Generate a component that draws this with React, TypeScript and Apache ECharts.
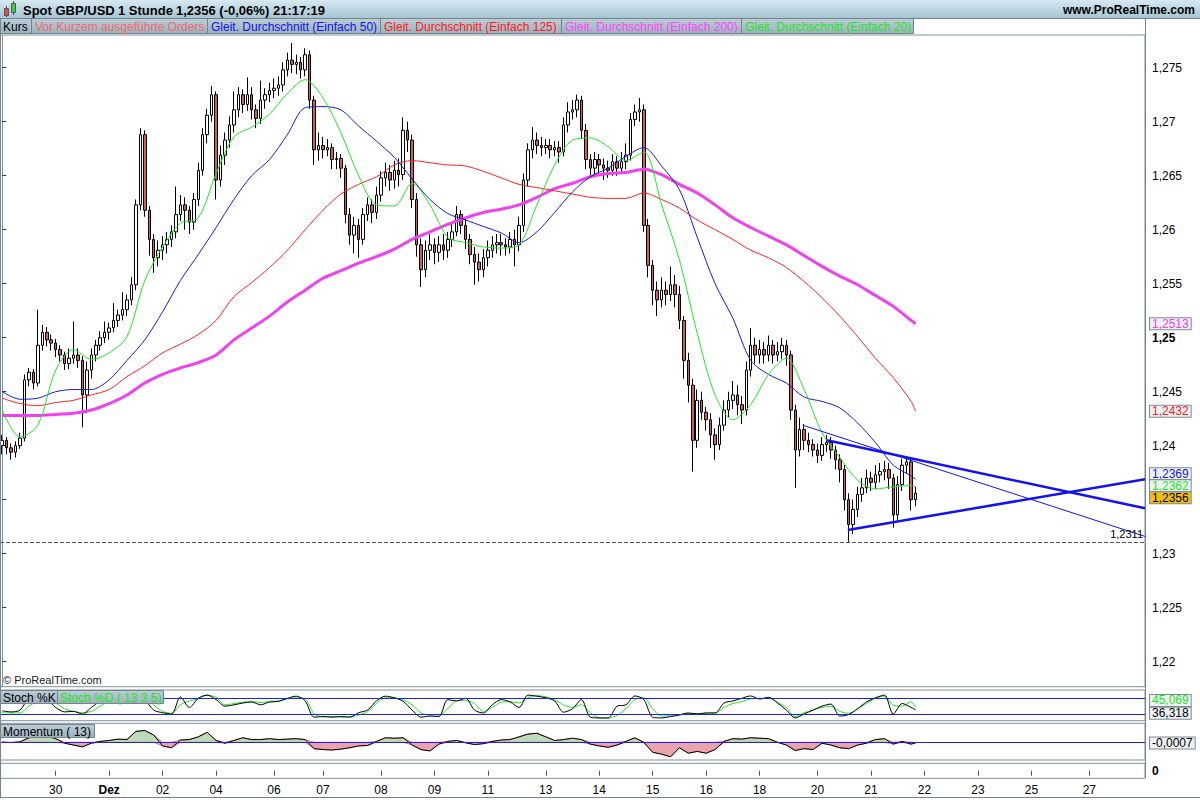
import React, { useEffect, useRef } from "react";
import * as echarts from "echarts";

const FONT = '"Liberation Sans", Arial, Helvetica, sans-serif';
const CAT_COUNT = 257;
const FIRST_OPEN = 1.24;

const closes = [
  1.2405, 1.2398, 1.2394, 1.24, 1.2407, 1.2461, 1.2468, 1.2458, 1.2493, 1.2505,
  1.2498, 1.2495, 1.2489, 1.2484, 1.2476, 1.2481, 1.2484, 1.2479, 1.2447, 1.247,
  1.2484, 1.2493, 1.25, 1.2505, 1.2509, 1.2516, 1.2521, 1.2526, 1.2535, 1.2549,
  1.2623, 1.2688, 1.2618, 1.2591, 1.2574, 1.2581, 1.2586, 1.2591, 1.2598, 1.2614,
  1.2623, 1.2618, 1.2607, 1.2628, 1.2655, 1.2688, 1.2706, 1.2725, 1.2646, 1.2669,
  1.2683, 1.2697, 1.2711, 1.2725, 1.2716, 1.2725, 1.2711, 1.2703, 1.272, 1.2725,
  1.2729, 1.2731, 1.2734, 1.2748, 1.2757, 1.2753, 1.2755, 1.2748, 1.2762, 1.272,
  1.2674, 1.2678, 1.2674, 1.2676, 1.2665, 1.2666, 1.2657, 1.2614, 1.2595, 1.2604,
  1.2591, 1.2614, 1.2623, 1.2616, 1.2632, 1.2648, 1.2653, 1.2646, 1.2655, 1.2651,
  1.2692, 1.2683, 1.2628, 1.2586, 1.2563, 1.2581, 1.2586, 1.2579, 1.2586, 1.2581,
  1.2591, 1.2598, 1.2614, 1.2604, 1.2591, 1.2577, 1.257, 1.2563, 1.2574, 1.2581,
  1.2586, 1.2588, 1.2586, 1.2584, 1.2591, 1.2586, 1.2604, 1.2646, 1.2674, 1.2683,
  1.2678, 1.2676, 1.2678, 1.2674, 1.2676, 1.2672, 1.2697, 1.2709, 1.2711, 1.272,
  1.2692, 1.2665, 1.2657, 1.2665, 1.266, 1.2657, 1.2655, 1.2663, 1.2657, 1.2663,
  1.2669, 1.2702, 1.2709, 1.2711, 1.2604, 1.2567, 1.2544, 1.2535, 1.2544, 1.254,
  1.2549, 1.254, 1.2516, 1.2479, 1.2456, 1.2405, 1.2442, 1.2431, 1.2424, 1.241,
  1.2401, 1.2419, 1.2433, 1.2442, 1.2447, 1.2438, 1.2433, 1.247, 1.2493, 1.2484,
  1.2489, 1.2484, 1.2493, 1.2484, 1.2487, 1.2493, 1.2484, 1.2433, 1.2396, 1.2415,
  1.2405, 1.2401, 1.2396, 1.2391, 1.2401, 1.2403, 1.2396, 1.2387, 1.2378, 1.235,
  1.2327, 1.2341, 1.2355, 1.2361, 1.237, 1.2366, 1.2373, 1.2376, 1.2378, 1.237,
  1.2336, 1.2364, 1.2382, 1.2385, 1.235, 1.2356,
];

const highs = [
  1.241, 1.2408, 1.2402, 1.2404, 1.2412, 1.2466, 1.2472, 1.2471, 1.2526, 1.2512,
  1.251, 1.2503, 1.2499, 1.2493, 1.2487, 1.249, 1.2515, 1.249, 1.2483, 1.2478,
  1.249, 1.2498, 1.2506, 1.2515, 1.2514, 1.2532, 1.2526, 1.2542, 1.254, 1.2556,
  1.2628, 1.2694, 1.2692, 1.2622, 1.2596, 1.259, 1.2594, 1.2598, 1.2604, 1.264,
  1.2632, 1.263, 1.2622, 1.2634, 1.2662, 1.2694, 1.2712, 1.2733, 1.2728, 1.2678,
  1.269, 1.2705, 1.2728, 1.2732, 1.273, 1.2741, 1.2732, 1.2716, 1.2738, 1.2731,
  1.2736, 1.274, 1.2742, 1.2755, 1.2764, 1.2773, 1.2762, 1.276, 1.2768, 1.2766,
  1.2724, 1.269, 1.2686, 1.2684, 1.268, 1.2672, 1.267, 1.266, 1.262, 1.2612,
  1.261, 1.262, 1.263, 1.2628, 1.264, 1.2654, 1.2662, 1.266, 1.2664, 1.2666,
  1.2704, 1.27, 1.2688, 1.2634, 1.2592, 1.259, 1.2596, 1.2592, 1.2594, 1.2596,
  1.2598, 1.2606, 1.2622, 1.2618, 1.261, 1.2596, 1.2584, 1.2578, 1.2582, 1.259,
  1.2594, 1.2596, 1.2596, 1.2592, 1.2598, 1.26, 1.2612, 1.2652, 1.268, 1.2695,
  1.269, 1.2686, 1.2684, 1.2684, 1.2682, 1.2682, 1.2704, 1.2718, 1.272, 1.2725,
  1.2724, 1.2698, 1.267, 1.2672, 1.267, 1.2666, 1.2664, 1.267, 1.2668, 1.2672,
  1.268, 1.2708, 1.2716, 1.2722, 1.2716, 1.261, 1.2572, 1.2552, 1.2556, 1.2552,
  1.2566, 1.2558, 1.2548, 1.252, 1.2486, 1.2462, 1.2452, 1.245, 1.2436, 1.243,
  1.2416, 1.2426, 1.2442, 1.245, 1.246, 1.2456, 1.2446, 1.2478, 1.2509, 1.25,
  1.2498, 1.2496, 1.2502, 1.2498, 1.2496, 1.25, 1.2498, 1.2488, 1.2438, 1.2426,
  1.242, 1.2412, 1.2406, 1.2402, 1.2408, 1.241, 1.2408, 1.24, 1.2392, 1.2382,
  1.2356, 1.235, 1.2362, 1.237, 1.2378, 1.2376, 1.2382, 1.2384, 1.2386, 1.2384,
  1.2374, 1.2372, 1.2388, 1.239, 1.2388, 1.2362,
];

const lows = [
  1.2392, 1.2392, 1.2387, 1.2389, 1.2397, 1.2404, 1.2455, 1.2452, 1.2455, 1.2488,
  1.2492, 1.2488, 1.2482, 1.2478, 1.247, 1.2471, 1.2476, 1.2472, 1.2417, 1.243,
  1.2462, 1.2478, 1.2488, 1.2495, 1.2498, 1.2505, 1.251, 1.2516, 1.252, 1.253,
  1.2544, 1.2618, 1.2612, 1.2576, 1.256, 1.2566, 1.2572, 1.2578, 1.2584, 1.2592,
  1.2608, 1.26, 1.2596, 1.26, 1.2622, 1.265, 1.268, 1.27, 1.2628, 1.264,
  1.266, 1.2676, 1.269, 1.2704, 1.2708, 1.271, 1.2702, 1.2694, 1.2698, 1.2712,
  1.2718, 1.2722, 1.2724, 1.2728, 1.2742, 1.2745, 1.2744, 1.274, 1.2742, 1.2712,
  1.266, 1.2664, 1.2666, 1.2668, 1.2656, 1.2656, 1.2648, 1.2606, 1.2586, 1.2578,
  1.2574, 1.2586, 1.2608, 1.2606, 1.261, 1.2626, 1.264, 1.2636, 1.2638, 1.264,
  1.2646, 1.2672, 1.262, 1.2575, 1.2547, 1.2556, 1.2572, 1.2568, 1.257, 1.2572,
  1.2574, 1.2584, 1.2594, 1.2596, 1.2582, 1.2568, 1.2549, 1.2552, 1.2556, 1.2566,
  1.2574, 1.2578, 1.2576, 1.2576, 1.2578, 1.2566, 1.258, 1.2598, 1.264, 1.2666,
  1.267, 1.2668, 1.267, 1.2666, 1.2668, 1.2662, 1.2668, 1.269, 1.2702, 1.2704,
  1.2684, 1.2656, 1.2648, 1.265, 1.2652, 1.2646, 1.2648, 1.265, 1.265, 1.2652,
  1.2656, 1.2664, 1.2696, 1.27, 1.2598, 1.2556, 1.253, 1.252, 1.2528, 1.253,
  1.2534, 1.2528, 1.2508, 1.2462, 1.244, 1.2376, 1.2398, 1.2424, 1.2414, 1.2398,
  1.2387, 1.2396, 1.2414, 1.2426, 1.2434, 1.2428, 1.242, 1.2428, 1.2464, 1.2476,
  1.2476, 1.2476, 1.2478, 1.2476, 1.2478, 1.248, 1.2474, 1.2424, 1.2361, 1.239,
  1.2396, 1.2394, 1.239, 1.2384, 1.2386, 1.2394, 1.2388, 1.2378, 1.2366, 1.234,
  1.2311, 1.2318, 1.2334, 1.2348, 1.2356, 1.2358, 1.236, 1.2366, 1.2368, 1.236,
  1.2324, 1.233, 1.2358, 1.2374, 1.234, 1.2344,
];

const ma200 = [
  1.2428, 1.2428, 1.2428, 1.2429, 1.243, 1.2433, 1.2439, 1.2447, 1.2458, 1.2466,
  1.2472, 1.2477, 1.2484, 1.2498, 1.2509, 1.252, 1.2533, 1.2544, 1.2555, 1.2562,
  1.2569, 1.2575, 1.2582, 1.2591, 1.2598, 1.2605, 1.2611, 1.2616, 1.2619, 1.2623,
  1.263, 1.2638, 1.2643, 1.2649, 1.2652, 1.2653, 1.2656, 1.2651, 1.2642, 1.2634,
  1.2623, 1.2611, 1.2602, 1.2594, 1.2586, 1.2576, 1.2566, 1.2557, 1.2549, 1.2539,
  1.2529, 1.2516, 1.2513,
];
const ma125 = [
  1.2444, 1.2439, 1.2437, 1.244, 1.2442, 1.2447, 1.2452, 1.2464, 1.2474, 1.2486,
  1.2494, 1.2503, 1.2516, 1.2538, 1.2551, 1.2565, 1.2581, 1.26, 1.2618, 1.2633,
  1.2642, 1.2649, 1.266, 1.2664, 1.2662, 1.266, 1.2659, 1.2654, 1.2648, 1.2642,
  1.2639, 1.2636, 1.2633, 1.263, 1.2629, 1.2629, 1.2634, 1.2628, 1.262, 1.2609,
  1.26, 1.2591, 1.2581, 1.2574, 1.2565, 1.2552, 1.2537, 1.252, 1.2501, 1.2481,
  1.2463, 1.2441, 1.2432,
];
const ma50 = [
  1.245, 1.2443, 1.2444, 1.245, 1.2452, 1.2452, 1.2461, 1.2479, 1.2498, 1.2524,
  1.2553, 1.2577, 1.2602, 1.2628, 1.265, 1.2665, 1.2688, 1.2713, 1.2714, 1.2711,
  1.2696, 1.2682, 1.2667, 1.2647, 1.2628, 1.2615, 1.2609, 1.2603, 1.2597, 1.2588,
  1.2598, 1.2616, 1.2635, 1.2649, 1.2657, 1.2668, 1.2676, 1.2659, 1.2637, 1.2593,
  1.255, 1.2518, 1.2479, 1.2466, 1.2458, 1.2445, 1.2441, 1.2435, 1.2421, 1.2403,
  1.2382, 1.2372, 1.2369,
];
const ma20 = [
  1.2433, 1.2408, 1.2419, 1.247, 1.2489, 1.248, 1.2486, 1.2501, 1.2553, 1.2584,
  1.2606, 1.2611, 1.2652, 1.2686, 1.2695, 1.2707, 1.2726, 1.2739, 1.2722, 1.269,
  1.265, 1.2623, 1.2622, 1.2643, 1.2623, 1.2593, 1.2588, 1.2584, 1.2583, 1.2586,
  1.2623, 1.266, 1.2683, 1.2685, 1.2677, 1.2664, 1.2672, 1.2623, 1.2572, 1.2504,
  1.2447, 1.2424, 1.2438, 1.2466, 1.2481, 1.2452, 1.2412, 1.2389, 1.2368, 1.236,
  1.2362, 1.2363, 1.2362,
];

const trendThin = [[179.7, 1.2419], [256.5, 1.2316]];
const trendUpper = [[185.1, 1.2405], [256.5, 1.2342]];
const trendLower = [[189.8, 1.2322], [256.5, 1.2369]];

const MIN_LEVEL = 1.2311;
const LAST_PRICE = 1.2356;

const stochK = [
  32, 28, 35, 80, 85, 75, 45, 28, 30, 20, 45, 70, 85, 88, 90, 95, 75, 35, 25, 20,
  85, 45, 80, 92, 75, 50, 55, 62, 66, 55, 66, 68, 80, 88, 70, 8, 10, 8, 10, 8,
  25, 35, 70, 88, 82, 68, 35, 8, 12, 10, 75, 70, 80, 35, 24, 55, 75, 66, 45, 92,
  88, 82, 70, 27, 40, 75, 8, 5, 5, 50, 55, 89, 75, 8, 5, 10, 16, 24, 20, 24,
  24, 62, 70, 80, 89, 77, 84, 62, 35, 5, 20, 35, 50, 58, 12, 18, 40, 66, 82, 92,
  20, 60, 45, 36.318,
];
const stochD = [
  25, 24, 24, 50, 70, 80, 62, 40, 30, 25, 30, 50, 70, 82, 88, 90, 85, 55, 30, 23,
  55, 70, 78, 92, 84, 55, 60, 65, 67, 64, 68, 70, 78, 82, 78, 20, 10, 10, 9, 9,
  16, 29, 60, 82, 82, 74, 55, 24, 16, 16, 40, 70, 72, 60, 30, 45, 65, 67, 62, 82,
  90, 86, 75, 55, 45, 55, 25, 5, 4, 15, 40, 75, 82, 40, 12, 15, 18, 22, 22, 23,
  23, 45, 60, 67, 78, 80, 80, 65, 45, 10, 25, 35, 45, 50, 30, 23, 40, 60, 80, 88,
  54, 50, 67, 45.069,
];
const momentum = [
  0.0002, -0.0003, 0.0005, 0.005, 0.006, 0.007, 0.004, -0.001, -0.003, -0.005,
  -0.001, 0.001, 0.002, 0.0035, 0.003, 0.012, 0.013, 0.008, -0.004, -0.006,
  0.0025, 0.003, 0.006, 0.011, 0.002, -0.001, 0.002, 0.005, 0.003, 0.003,
  0.004, 0.003, 0.0035, 0.004, 0.003, -0.007, -0.008, -0.0085, -0.0075, -0.006,
  -0.004, -0.0035, 0.001, 0.005, 0.0045, 0.005, -0.003, -0.008, -0.0095, -0.002,
  0.001, 0.002, -0.0005, -0.0025, -0.0015, 0.001, 0.0025, 0.003, 0.006, 0.009,
  0.01, 0.006, 0.002, 0.003, 0.0045, 0.003, -0.002, -0.004, -0.0055, -0.003,
  0.001, 0.005, 0, -0.011, -0.013, -0.016, -0.006, -0.012, -0.01, -0.012,
  -0.008, 0.001, 0.004, 0.0035, 0.005, 0.0045, 0.004, 0, -0.003, -0.009,
  -0.007, -0.008, -0.001, -0.003, -0.006, -0.007, -0.003, -0.001, 0.003, 0.004,
  -0.002, 0.001, -0.002, -0.0007,
];

const xTickLabels: [number, string][] = [
  [12, "30"], [24, "Dez"], [36, "02"], [48, "04"], [61, "06"], [72, "07"], [85, "08"],
  [97, "09"], [109, "11"], [122, "13"], [134, "14"], [146, "15"], [158, "16"],
  [170, "18"], [183, "20"], [195, "21"], [207, "22"], [219, "23"], [231, "25"], [244, "27"],
];

const legendItems: [string, string][] = [
  ["Kurs", "#000000"],
  ["Vor Kurzem ausgeführte Orders", "#ee6a6a"],
  ["Gleit. Durchschnitt (Einfach 50)", "#1414e6"],
  ["Gleit. Durchschnitt (Einfach 125)", "#ff1a1a"],
  ["Gleit. Durchschnitt (Einfach 200)", "#ff44ff"],
  ["Gleit. Durchschnitt (Einfach 20)", "#1ee61e"],
];

const comma = (v: number, d: number) => v.toFixed(d).replace(".", ",");

function buildOption() {
  const cats = Array.from({ length: CAT_COUNT }, (_, i) => String(i));
  const labelMap = new Map<number, string>(xTickLabels);
  const bottomCats = Array.from({ length: CAT_COUNT }, (_, i) => labelMap.get(i) ?? "");

  const candleData = closes.map((c, i) => [i === 0 ? FIRST_OPEN : closes[i - 1], c, lows[i], highs[i]]);
  const maIdx = (k: number, n: number) => (k === n - 1 ? closes.length - 1 : 4 * k);
  const oscIdx = (k: number, n: number) => (k === n - 1 ? closes.length - 1 : 2 * k);
  const toPairs = (arr: number[], f: (k: number, n: number) => number) => arr.map((v, k) => [f(k, arr.length), v]);

  const tag = (v: number, color: string, bg: string, dy: number, digits: number) => ({
    yAxis: v,
    lineStyle: { color: "rgba(0,0,0,0)", width: 0, opacity: 1 },
    label: {
      show: true,
      position: "end",
      distance: 5,
      formatter: comma(v, digits),
      color,
      opacity: 1,
      backgroundColor: bg,
      borderColor: "#7b8c97",
      borderWidth: 1,
      padding: [0, 2, 0, 2],
      lineHeight: 11,
      fontSize: 12,
      fontFamily: FONT,
      offset: [0, dy],
    },
  });
  const ml = (data: any[], z?: number) => ({ symbol: "none", silent: true, animation: false, precision: 6, ...(z ? { z } : {}), data });

  const maSeries = (data: number[], color: string, width: number, dy: number) => ({
    type: "line",
    xAxisIndex: 1,
    yAxisIndex: 0,
    data: toPairs(data, maIdx),
    showSymbol: false,
    smooth: 0.3,
    lineStyle: { color, width },
    itemStyle: { color },
    silent: true,
    markLine: ml([tag(data[data.length - 1], color, "#eef1f3", dy, 4)]),
  });

  const trend = (data: number[][], width: number) => ({
    type: "line",
    xAxisIndex: 1,
    yAxisIndex: 0,
    data,
    showSymbol: false,
    silent: true,
    lineStyle: { color: "#1212f5", width },
  });

  const hGrad = (c1: string, c2: string) =>
    new echarts.graphic.LinearGradient(0, 0, 0, 1, [
      { offset: 0, color: c1 },
      { offset: 1, color: c2 },
    ]);

  const legendX = [0, 32, 208, 381, 562, 742, 914];
  const headerFont = `bold 13px ${FONT}`;
  const graphics: any[] = [
    { type: "rect", z: 100, shape: { x: 0, y: 0, width: 1200, height: 18 }, style: { fill: hGrad("#d7e9f1", "#a6c4d2") } },
    { type: "line", z: 101, shape: { x1: 0, y1: 18.5, x2: 1200, y2: 18.5 }, style: { stroke: "#72858f", lineWidth: 1 } },
    { type: "line", z: 101, shape: { x1: 6.5, y1: 6, x2: 6.5, y2: 17 }, style: { stroke: "#555", lineWidth: 1 } },
    { type: "rect", z: 102, shape: { x: 4.5, y: 8.5, width: 4, height: 7 }, style: { fill: "#e24c4c", stroke: "#555", lineWidth: 1 } },
    { type: "line", z: 101, shape: { x1: 13.5, y1: 1, x2: 13.5, y2: 15 }, style: { stroke: "#555", lineWidth: 1 } },
    { type: "rect", z: 102, shape: { x: 11.5, y: 3.5, width: 4, height: 9 }, style: { fill: "#3ad23a", stroke: "#555", lineWidth: 1 } },
    { type: "text", z: 102, x: 23, y: 10, style: { text: "Spot GBP/USD", font: headerFont, fill: "#000", textVerticalAlign: "middle" } },
    { type: "text", z: 102, x: 118, y: 10, style: { text: "1 Stunde", font: headerFont, fill: "#000", textVerticalAlign: "middle" } },
    { type: "text", z: 102, x: 176, y: 10, style: { text: "1,2356 (-0,06%)", font: headerFont, fill: "#000", textVerticalAlign: "middle" } },
    { type: "text", z: 102, x: 273, y: 10, style: { text: "21:17:19", font: headerFont, fill: "#000", textVerticalAlign: "middle" } },
    { type: "text", z: 102, x: 1195, y: 10, style: { text: "www.ProRealTime.com", font: `bold 12px ${FONT}`, fill: "#000", textAlign: "right", textVerticalAlign: "middle" } },
    { type: "rect", z: 100, shape: { x: 0.5, y: 18.5, width: 913, height: 15 }, style: { fill: hGrad("#bccdd6", "#9db2be"), stroke: "#72858f", lineWidth: 1 } },
  ];
  legendItems.forEach(([t, c], k) => {
    if (k > 0) {
      graphics.push({ type: "line", z: 101, shape: { x1: legendX[k] - 0.5, y1: 19, x2: legendX[k] - 0.5, y2: 33 }, style: { stroke: "#72858f", lineWidth: 1 } });
    }
    graphics.push({ type: "text", z: 102, x: legendX[k] + 3, y: 26.5, style: { text: t, font: `12px ${FONT}`, fill: c, textVerticalAlign: "middle" } });
  });
  graphics.push(
    { type: "text", z: 102, x: 3, y: 680, style: { text: "© ProRealTime.com", font: `11px ${FONT}`, fill: "#222", textVerticalAlign: "middle" } },
    { type: "rect", z: 100, shape: { x: 0.5, y: 690.5, width: 57, height: 13 }, style: { fill: hGrad("#bccdd6", "#9db2be"), stroke: "#72858f", lineWidth: 1 } },
    { type: "rect", z: 100, shape: { x: 57.5, y: 690.5, width: 106, height: 13 }, style: { fill: hGrad("#bccdd6", "#9db2be"), stroke: "#72858f", lineWidth: 1 } },
    { type: "text", z: 102, x: 3, y: 697.5, style: { text: "Stoch %K", font: `12px ${FONT}`, fill: "#000", textVerticalAlign: "middle" } },
    { type: "text", z: 102, x: 60, y: 697.5, style: { text: "Stoch %D ( 13 3 5)", font: `12px ${FONT}`, fill: "#1ee61e", textVerticalAlign: "middle" } },
    { type: "rect", z: 100, shape: { x: 0.5, y: 724.5, width: 94, height: 13 }, style: { fill: hGrad("#bccdd6", "#9db2be"), stroke: "#72858f", lineWidth: 1 } },
    { type: "text", z: 102, x: 3, y: 731.5, style: { text: "Momentum ( 13)", font: `12px ${FONT}`, fill: "#000", textVerticalAlign: "middle" } },
    { type: "line", z: 101, shape: { x1: 0.5, y1: 18, x2: 0.5, y2: 798 }, style: { stroke: "#72858f", lineWidth: 1 } },
    { type: "line", z: 101, shape: { x1: 1145.5, y1: 18, x2: 1145.5, y2: 778 }, style: { stroke: "#72858f", lineWidth: 1 } },
    { type: "line", z: 101, shape: { x1: 0, y1: 797.5, x2: 1200, y2: 797.5 }, style: { stroke: "#72858f", lineWidth: 1 } }
  );

  const gridBase = { left: 0, width: 1145, show: true, borderColor: "#7f919c", borderWidth: 1, backgroundColor: "#ffffff" };
  const hiddenValX = (gridIndex: number) => ({ type: "value", gridIndex, min: -0.5, max: CAT_COUNT - 0.5, show: false });

  const priceFmt = (v: number) => {
    const s = String(parseFloat(v.toFixed(4))).replace(".", ",");
    if (Math.abs(v - 1.235) < 1e-7) return "";
    return Math.abs(v - 1.25) < 1e-7 ? `{b|${s}}` : s;
  };

  const momPairs = toPairs(momentum, oscIdx);
  const momPos = momPairs.map(([x, v]) => [x, Math.max(v, 0)]);
  const momNeg = momPairs.map(([x, v]) => [x, Math.min(v, 0)]);

  return {
    animation: false,
    backgroundColor: "#ffffff",
    textStyle: { fontFamily: FONT },
    graphic: { elements: graphics },
    grid: [
      { ...gridBase, top: 35, height: 651.7 },
      { ...gridBase, top: 690, height: 30.7 },
      { ...gridBase, top: 723.3, height: 36.7 },
      { ...gridBase, top: 763.3, height: 15 },
    ],
    xAxis: [
      { type: "category", gridIndex: 0, data: cats, show: false, boundaryGap: true },
      hiddenValX(0),
      hiddenValX(1),
      hiddenValX(2),
      {
        type: "category",
        gridIndex: 3,
        data: bottomCats,
        boundaryGap: true,
        axisLine: { show: false },
        axisTick: { show: true, alignWithLabel: true, length: 5, interval: (i: number) => labelMap.has(i), lineStyle: { color: "#555" } },
        axisLabel: {
          interval: (i: number) => labelMap.has(i),
          margin: 6,
          color: "#000",
          fontSize: 12,
          fontFamily: FONT,
          formatter: (v: string) => (v === "Dez" ? "{b|Dez}" : v),
          rich: { b: { fontWeight: "bold", fontSize: 12, fontFamily: FONT, color: "#000" } },
        },
      },
    ],
    yAxis: [
      {
        type: "value",
        gridIndex: 0,
        position: "right",
        min: 1.217685,
        max: 1.278028,
        splitNumber: 12,
        splitLine: { show: false },
        axisLine: { show: true, lineStyle: { color: "#7f919c" } },
        axisTick: { show: true, length: 4, lineStyle: { color: "#333" } },
        axisLabel: {
          showMinLabel: false,
          showMaxLabel: false,
          margin: 7,
          color: "#000",
          fontSize: 12,
          fontFamily: FONT,
          formatter: priceFmt,
          rich: { b: { fontWeight: "bold", fontSize: 12, fontFamily: FONT, color: "#000" } },
        },
      },
      { type: "value", gridIndex: 1, position: "right", min: -5.6, max: 111.7, splitLine: { show: false }, axisLabel: { show: false }, axisTick: { show: false }, axisLine: { show: false } },
      { type: "value", gridIndex: 2, position: "right", min: -0.01947, max: 0.0209, splitLine: { show: false }, axisLabel: { show: false }, axisTick: { show: false }, axisLine: { show: false } },
      {
        type: "value",
        gridIndex: 3,
        position: "right",
        min: -1,
        max: 1,
        interval: 1,
        splitLine: { show: false },
        axisLine: { show: false },
        axisTick: { show: false },
        axisLabel: {
          margin: 7,
          formatter: (v: number) => (v === 0 ? "{b|0}" : ""),
          rich: { b: { fontWeight: "bold", fontSize: 12, fontFamily: FONT, color: "#000" } },
        },
      },
    ],
    series: [
      {
        type: "candlestick",
        xAxisIndex: 0,
        yAxisIndex: 0,
        data: candleData,
        barWidth: 3,
        silent: true,
        itemStyle: { color: "#ffffff", color0: "#cf5f5b", borderColor: "#000000", borderColor0: "#000000", borderWidth: 1 },
        markLine: ml(
          [
            {
              yAxis: MIN_LEVEL,
              lineStyle: { type: "dashed", color: "#555", width: 1 },
              label: { show: true, position: "insideEndTop", formatter: comma(MIN_LEVEL, 4), color: "#000", fontSize: 11, fontFamily: FONT, distance: 2 },
            },
            tag(LAST_PRICE, "#000000", "#f3bd12", 4.5, 4),
          ],
          10
        ),
      },
      maSeries(ma200, "#f040f0", 3, 0),
      maSeries(ma125, "#ff2020", 1, 0),
      maSeries(ma50, "#1818d8", 1, -5.5),
      maSeries(ma20, "#1ee61e", 1, -1),
      trend(trendThin, 1),
      trend(trendUpper, 2.5),
      trend(trendLower, 2.5),
      {
        type: "line",
        xAxisIndex: 2,
        yAxisIndex: 1,
        data: toPairs(stochD, oscIdx),
        showSymbol: false,
        silent: true,
        smooth: 0.3,
        lineStyle: { color: "#1ee61e", width: 1 },
        markLine: ml([tag(stochD[stochD.length - 1], "#1ee61e", "#eef1f3", -7, 3)]),
      },
      {
        type: "line",
        xAxisIndex: 2,
        yAxisIndex: 1,
        data: toPairs(stochK, oscIdx),
        showSymbol: false,
        silent: true,
        smooth: 0.3,
        lineStyle: { color: "#000000", width: 1 },
        markLine: ml([
          { yAxis: 80, lineStyle: { color: "#2020ee", width: 1, type: "solid" }, label: { show: false } },
          { yAxis: 20, lineStyle: { color: "#2020ee", width: 1, type: "solid" }, label: { show: false } },
          tag(stochK[stochK.length - 1], "#000000", "#eef1f3", 3.5, 3),
        ]),
      },
      {
        type: "line",
        xAxisIndex: 3,
        yAxisIndex: 2,
        data: momPos,
        showSymbol: false,
        silent: true,
        lineStyle: { width: 1, color: "#e07a7a" },
        areaStyle: { opacity: 1, color: "#bcdcb8" },
      },
      {
        type: "line",
        xAxisIndex: 3,
        yAxisIndex: 2,
        data: momNeg,
        showSymbol: false,
        silent: true,
        lineStyle: { width: 1, color: "#e07a7a" },
        areaStyle: { opacity: 1, color: "#eba3ab" },
      },
      {
        type: "line",
        xAxisIndex: 3,
        yAxisIndex: 2,
        data: momPairs,
        showSymbol: false,
        silent: true,
        lineStyle: { color: "#000000", width: 1 },
        markLine: ml([
          { yAxis: 0, lineStyle: { color: "#2020ee", width: 1, type: "solid" }, label: { show: false } },
          tag(momentum[momentum.length - 1], "#000000", "#eef1f3", 0, 4),
        ]),
      },
    ],
  };
}

export default function App() {
  const ref = useRef<HTMLDivElement>(null);

  useEffect(() => {
    const el = ref.current;
    if (!el) return;
    const chart = echarts.init(el, undefined, { renderer: "svg" });
    chart.setOption(buildOption() as any);
    return () => chart.dispose();
  }, []);

  return <div ref={ref} style={{ position: "fixed", left: 0, top: 0, width: 1200, height: 800, background: "#ffffff" }} />;
}
